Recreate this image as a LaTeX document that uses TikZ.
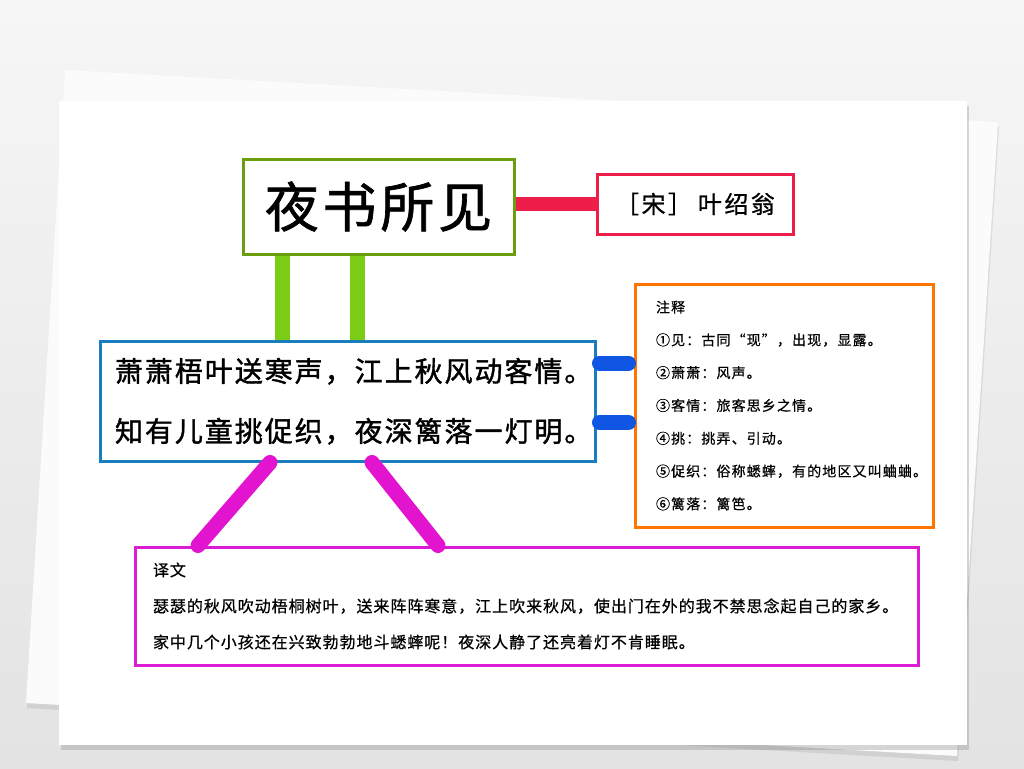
\documentclass[tikz,border=0pt]{standalone}
\usepackage{fontspec}
\usepackage{xcolor}
\usetikzlibrary{calc,shadows}
\setmainfont{Noto Sans CJK SC}
\definecolor{titlegreen}{HTML}{6A9E0C}
\definecolor{leggreen}{HTML}{7ACC14}
\definecolor{authorred}{HTML}{EE1E4A}
\definecolor{poemblue}{HTML}{1A7DC0}
\definecolor{linkblue}{HTML}{0F56E2}
\definecolor{noteorange}{HTML}{FF7500}
\definecolor{transmagenta}{HTML}{DC1CD4}
\definecolor{linkmagenta}{HTML}{E214D0}

\begin{document}
\begin{tikzpicture}[x=1pt,y=-1pt,
  box/.style={draw, line width=3pt, fill=white, inner sep=0pt},
  textbox/.style={box, align=left, inner ysep=0pt},
  leg/.style={draw=leggreen, line width=15pt},
  redlink/.style={draw=authorred, line width=14pt},
  bluelink/.style={draw=linkblue, line width=15pt, line cap=round},
  pinklink/.style={draw=linkmagenta, line width=15pt, line cap=round}]
\useasboundingbox (0,0) rectangle (1024,768);
% Drawing paper
\fill[top color=gray!7, bottom color=gray!22] (0.000000,0.000000) rectangle (1024.000000,768.000000);
\fill[white!97!gray, drop shadow={opacity=0.18, shadow xshift=1pt, shadow yshift=-5pt}]
  (65.000000,70.000000) -- (998.000000,122.000000) -- (957.000000,756.000000) -- (26.000000,703.000000) -- cycle;
\fill[white, drop shadow={opacity=0.3, shadow xshift=2pt, shadow yshift=-5pt}]
  (59.000000,101.000000) rectangle (967.000000,745.000000);
% Done with paper; drawing boxes
% Box 1: title
\node[box, draw=titlegreen, minimum width=271pt, minimum height=95pt,
  font={\fontsize{54pt}{60pt}\selectfont\addfontfeatures{LetterSpace=7,FakeBold=1.2}}]
  (title) at (378.500000,206.500000) {夜书所见};
% Box 2: author
\node[box, draw=authorred, minimum width=196pt, minimum height=60pt,
  font={\fontsize{24pt}{28pt}\selectfont\addfontfeatures{LetterSpace=10,FakeBold=0.8}}]
  (author) at (695.000000,204.000000) {［宋］\hspace{6pt}叶绍翁};
% Box 3: poem
\node[textbox, draw=poemblue, inner xsep=15pt, text width=465pt, minimum height=119.5pt,
  font={\fontsize{28pt}{60pt}\selectfont\addfontfeatures{LetterSpace=7,FakeBold=1.4}}]
  (poem) at (347.500000,401.250000)
  {萧萧梧叶送寒声，江上秋风动客情。\\知有儿童挑促织，夜深篱落一灯明。};
% Box 4: notes
\node[textbox, draw=noteorange, inner xsep=21pt, text width=256pt, minimum height=243pt,
  font={\fontsize{14pt}{32.8pt}\selectfont\addfontfeatures{LetterSpace=8,FakeBold=0.6}}]
  (notes) at (784.000000,405.500000)
  {注释\\
   ①见：古同“现”，出现，显露。\\
   ②萧萧：风声。\\
   ③客情：旅客思乡之情。\\
   ④挑：挑弄、引动。\\
   ⑤促织：俗称蟋蟀，有的地区又叫蛐蛐。\\
   ⑥篱落：篱笆。};
% Box 5: translation
\node[textbox, draw=transmagenta, inner xsep=18pt, text width=747pt, minimum height=118pt,
  font={\fontsize{16pt}{36pt}\selectfont\addfontfeatures{LetterSpace=6,FakeBold=0.6}}]
  (trans) at (526.500000,606.000000)
  {译文\\
   瑟瑟的秋风吹动梧桐树叶，送来阵阵寒意，江上吹来秋风，使出门在外的我不禁思念起自己的家乡。\\
   家中几个小孩还在兴致勃勃地斗蟋蟀呢！夜深人静了还亮着灯不肯睡眠。};
% Done with boxes; drawing links
\coordinate (legA) at (282.500000,0.000000);
\coordinate (legB) at (357.500000,0.000000);
\coordinate (noteA) at (0.000000,363.000000);
\coordinate (noteB) at (0.000000,422.500000);
\coordinate (pinA) at (270.000000,0.000000);
\coordinate (pinB) at (198.000000,0.000000);
\coordinate (pinC) at (372.000000,0.000000);
\coordinate (pinD) at (438.000000,0.000000);
\draw[redlink] (title.east |- author.west) -- (author.west);
\draw[leg] (title.south -| legA) -- (poem.north -| legA);
\draw[leg] (title.south -| legB) -- (poem.north -| legB);
\draw[bluelink, shorten <=3pt, shorten >=5pt] (poem.east |- noteA) -- (notes.west |- noteA);
\draw[bluelink, shorten <=3pt, shorten >=5pt] (poem.east |- noteB) -- (notes.west |- noteB);
\draw[pinklink] (poem.south -| pinA) -- (trans.north -| pinB);
\draw[pinklink] (poem.south -| pinC) -- (trans.north -| pinD);
% Done with links
\end{tikzpicture}
\end{document}
